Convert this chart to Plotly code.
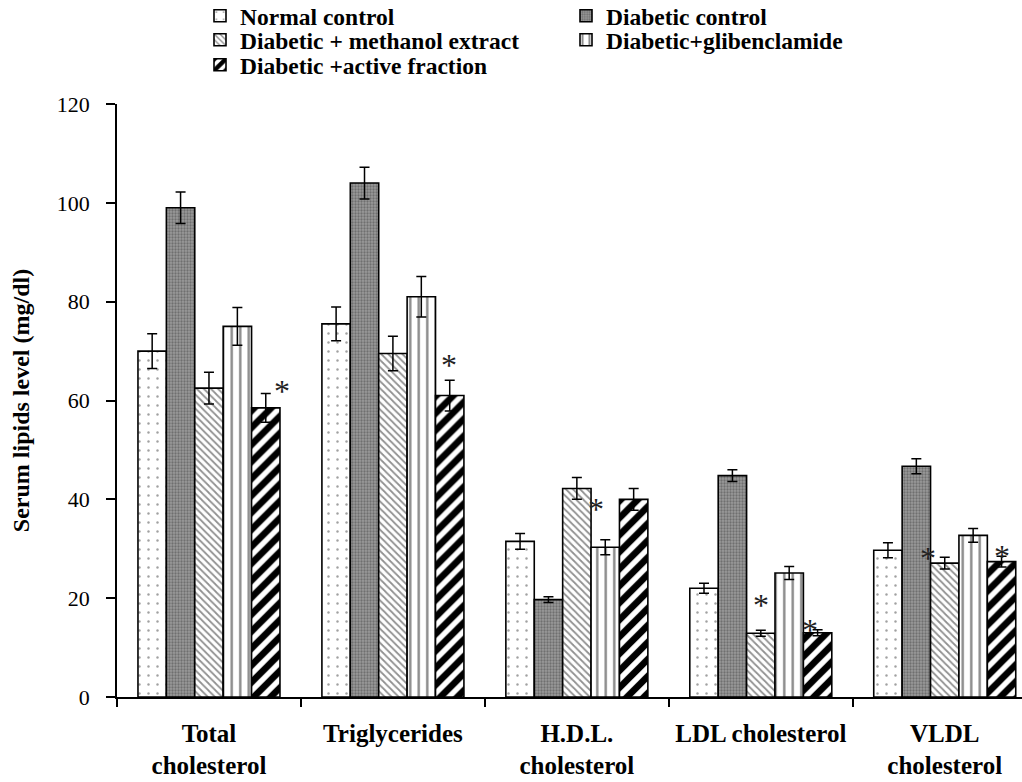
import plotly.graph_objects as go

# ---- data ----
categories = ["Total<br>cholesterol", "Triglycerides", "H.D.L.<br>cholesterol",
              "LDL cholesterol", "VLDL<br>cholesterol"]

series_names = ["Normal control", "Diabetic control", "Diabetic + methanol extract",
                "Diabetic+glibenclamide", "Diabetic +active fraction"]

normal_control = [70.0, 75.5, 31.5, 22.0, 29.7]
normal_err = [3.5, 3.4, 1.6, 1.0, 1.5]

diabetic_control = [99.0, 104.0, 19.7, 44.8, 46.7]
diabetic_err = [3.2, 3.2, 0.6, 1.2, 1.5]

methanol_extract = [62.5, 69.5, 42.2, 12.9, 27.1]
methanol_err = [3.2, 3.5, 2.2, 0.6, 1.2]

glibenclamide = [75.0, 81.0, 30.3, 25.1, 32.7]
glibenclamide_err = [3.8, 4.1, 1.5, 1.3, 1.4]

active_fraction = [58.5, 61.0, 40.0, 13.0, 27.4]
active_err = [2.9, 3.1, 2.2, 0.6, 1.1]

# significance markers (category index position, value)
star_x = [0.396, 1.305, 2.105, 3.002, 3.268, 3.91, 4.31]
star_y = [62.8, 68.0, 38.8, 19.4, 14.4, 28.9, 29.3]

y_ticks = [0, 20, 40, 60, 80, 100, 120]

FONT = "Liberation Serif, Times New Roman, serif"

values = [normal_control, diabetic_control, methanol_extract, glibenclamide, active_fraction]
errors = [normal_err, diabetic_err, methanol_err, glibenclamide_err, active_err]

patterns = [
    dict(shape=".", fgcolor="#444444", bgcolor="white", size=9, solidity=0.06),
    dict(shape=".", fgcolor="#444444", bgcolor="#9a9a9a", size=3, solidity=0.45),
    dict(shape="\\", fgcolor="#222222", bgcolor="white", size=5, solidity=0.35),
    dict(shape="|", fgcolor="#111111", bgcolor="white", size=8.5, solidity=0.28),
    dict(shape="/", fgcolor="black", bgcolor="white", size=12, solidity=0.55, fgopacity=1),
]

legend_ids = ["legend", "legend2", "legend3", "legend4", "legend5"]

fig = go.Figure()
for name, vals, errs, pat, lg in zip(series_names, values, errors, patterns, legend_ids):
    fig.add_trace(go.Bar(
        x=categories, y=vals, name=name, legend=lg,
        marker=dict(color="white", pattern=pat, line=dict(color="black", width=1.6)),
        error_y=dict(type="data", array=errs, visible=True, color="black",
                     thickness=1.5, width=5),
    ))

for sx, sy in zip(star_x, star_y):
    fig.add_annotation(x=sx, y=sy, text="*", showarrow=False, xref="x", yref="y",
                       font=dict(family=FONT, size=32, color="#222222"), yshift=-4)

# plot area: 117..1022 px horizontally, 104..697 px vertically
W, H = 1022, 782
L, T, B = 117, 104, 85
pw, ph = W - L, H - T - B

def lx(px):
    return (px - L) / pw

def ly(py):
    return (H - B - py) / ph

legend_pos = [(200, 16), (566, 16), (200, 40), (566, 40), (200, 65)]
legend_cfg = {}
for lg, (px, py) in zip(legend_ids, legend_pos):
    legend_cfg[lg] = dict(x=lx(px), y=ly(py), xanchor="left", yanchor="middle",
                          orientation="h", bgcolor="rgba(0,0,0,0)",
                          font=dict(family=FONT, size=23.5, color="black", weight="bold"))

fig.update_layout(
    width=W, height=H,
    margin=dict(l=L, r=0, t=T, b=B, autoexpand=False),
    paper_bgcolor="white", plot_bgcolor="white",
    barmode="group", bargap=0.228, bargroupgap=0,
    showlegend=True,
    font=dict(family=FONT, color="black"),
    xaxis=dict(
        type="category", range=[-0.5, 4.42], tickson="boundaries",
        ticks="outside", ticklen=8, tickwidth=1.5, tickcolor="black",
        showline=True, linecolor="black", linewidth=1.5, showgrid=False,
        tickfont=dict(family=FONT, size=25, color="black", weight="bold"),
        ticklabelstandoff=13,
    ),
    yaxis=dict(
        range=[0, 120], tickvals=y_ticks, ticks="outside", ticklen=9,
        tickwidth=1.5, tickcolor="black", showline=True, linecolor="black",
        linewidth=1.5, showgrid=False, zeroline=False,
        tickfont=dict(family=FONT, size=22, color="black"),
        ticklabelstandoff=12,
        title=dict(text="Serum lipids level (mg/dl)", standoff=20,
                   font=dict(family=FONT, size=24, color="black", weight="bold")),
    ),
    **legend_cfg,
)

fig.write_html(
    "out.html",
    config={"displayModeBar": False},
    post_script="document.body.style.margin='0';document.body.style.overflow='hidden';",
)
